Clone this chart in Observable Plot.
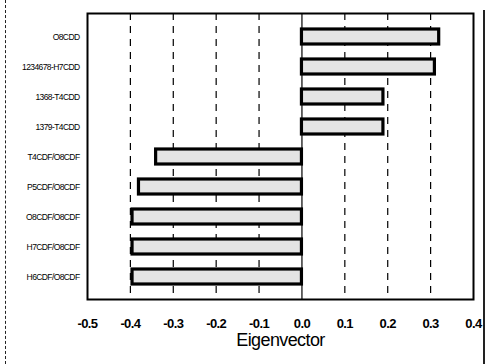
<!DOCTYPE html>
<html>
<head>
<meta charset="utf-8">
<script src="https://cdn.jsdelivr.net/npm/d3@7"></script>
<script src="https://cdn.jsdelivr.net/npm/@observablehq/plot@0.6"></script>
<style>
  html, body { margin: 0; padding: 0; background: #fff; }
  #chart { width: 488px; height: 364px; position: relative; }
  #chart::before { content: ""; position: absolute; left: 5px; top: 0; height: 364px; border-left: 1.5px dashed #222; }
  #chart::after { content: ""; position: absolute; left: 483px; top: 10px; height: 354px; border-left: 2px solid #222; }
  svg { font-family: "Liberation Sans", Arial, sans-serif; }
  .xax text { letter-spacing: -0.6px; }
  .yax text { letter-spacing: -0.6px; }
  .xlab text { letter-spacing: -0.6px; }
</style>
</head>
<body>
<div id="chart"></div>
<script>
const categories = ["O8CDD", "1234678-H7CDD", "1368-T4CDD", "1379-T4CDD", "T4CDF/O8CDF", "P5CDF/O8CDF", "O8CDF/O8CDF", "H7CDF/O8CDF", "H6CDF/O8CDF"];
const values = [0.32, 0.31, 0.19, 0.19, -0.34, -0.38, -0.395, -0.395, -0.395];
const xTicks = [-0.5, -0.4, -0.3, -0.2, -0.1, 0.0, 0.1, 0.2, 0.3, 0.4];
const gridTicks = [-0.4, -0.3, -0.2, -0.1, 0.1, 0.2, 0.3];
const xLabel = "Eigenvector";

const data = categories.map((c, i) => ({category: c, value: values[i]}));

const chart = Plot.plot({
  width: 488,
  height: 364,
  marginLeft: 87,
  marginRight: 15,
  marginTop: 13,
  marginBottom: 65,
  style: {background: "#fff", color: "#000", overflow: "visible"},
  x: {domain: [-0.5, 0.4], ticks: xTicks, label: null},
  y: {domain: categories, label: null, padding: 0.5},
  marks: [
    Plot.ruleX(gridTicks, {stroke: "#000", strokeWidth: 1.2, strokeDasharray: "7,6"}),
    Plot.ruleX([0], {stroke: "#000", strokeWidth: 1.2}),
    Plot.barX(data, {x1: 0, x2: "value", y: "category", fill: "#e4e4e4", stroke: "#000", strokeWidth: 3.2}),
    Plot.frame({stroke: "#000", strokeWidth: 2}),
    Plot.axisX({ticks: xTicks, tickSize: 0, tickPadding: 19, fontSize: 13, fontWeight: "bold", tickFormat: d => d.toFixed(1), label: null, className: "xax"}),
    Plot.axisY({tickSize: 0, tickPadding: 8, fontSize: 8.5, label: null, className: "yax"}),
    Plot.text([xLabel], {frameAnchor: "bottom", dy: 46, fontSize: 18, text: d => d, fill: "#000", className: "xlab"})
  ]
});
document.getElementById("chart").appendChild(chart);
</script>
</body>
</html>
